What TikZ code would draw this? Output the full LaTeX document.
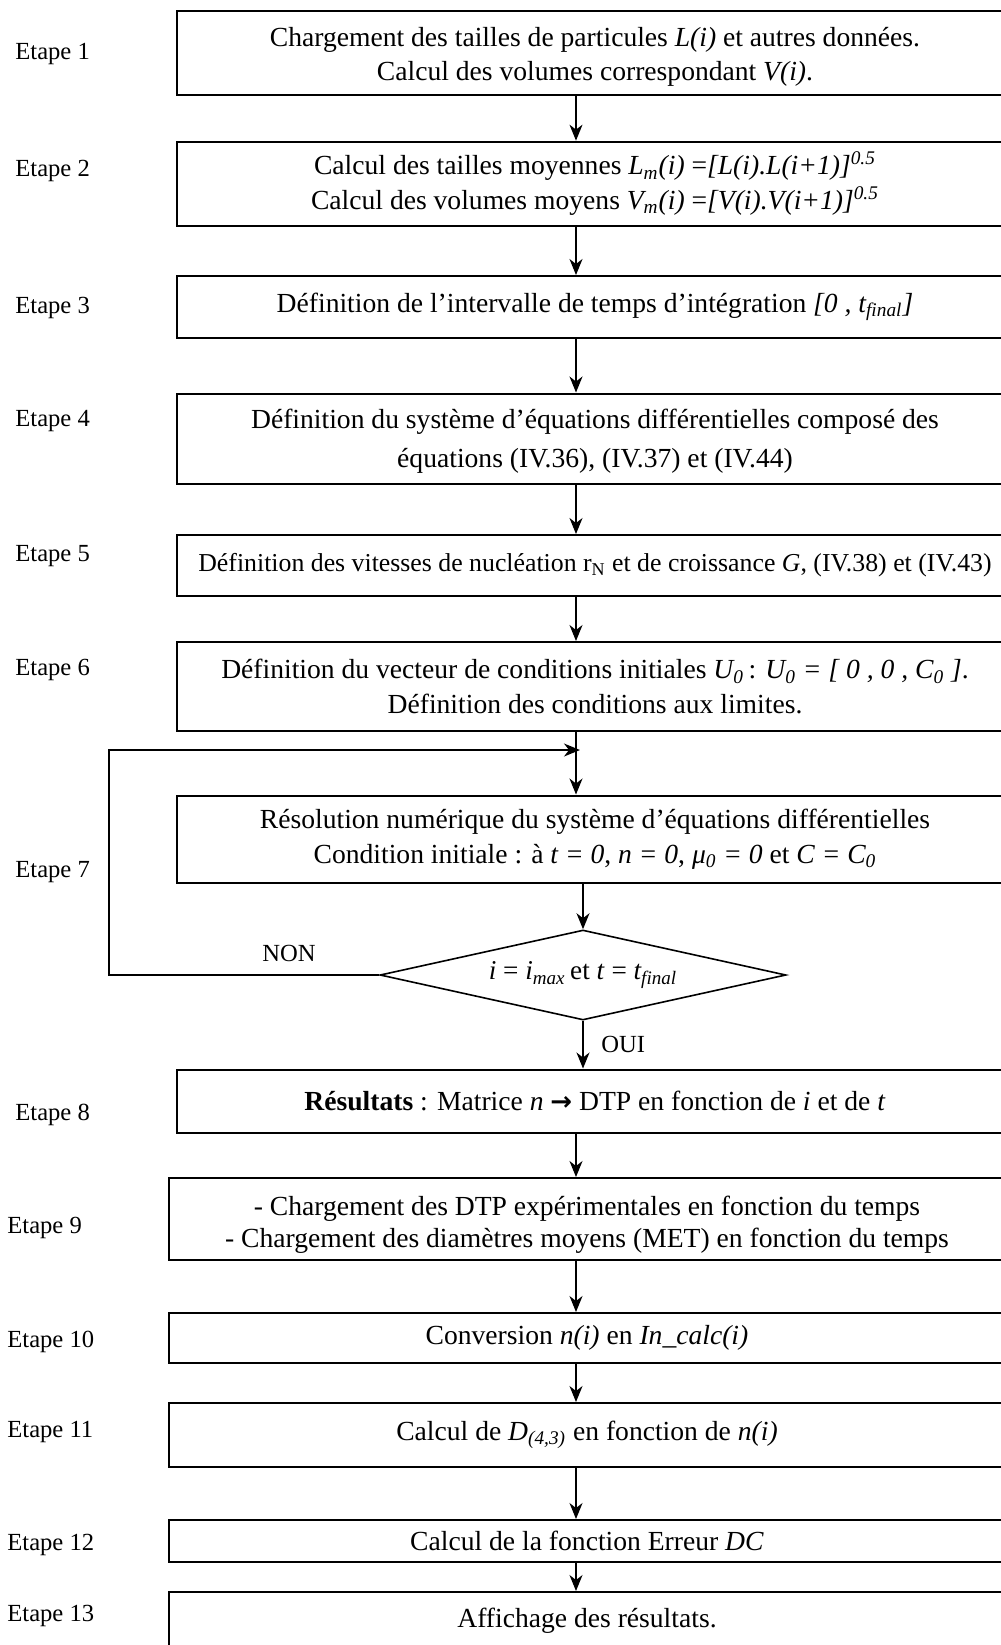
\documentclass[tikz,border=0pt]{standalone}
\usepackage{fontspec}
\setmainfont{Liberation Serif}
\newfontfamily\djv{DejaVu Sans}
\usetikzlibrary{arrows.meta,shapes.geometric}
\begin{document}
\begin{tikzpicture}[x=0.5pt,y=-0.5pt,
  box/.style={draw,line width=1pt,minimum width=418pt,inner sep=0pt,align=center,font=\fontsize{13.8}{17.3}\selectfont},
  txt/.style={inner sep=0pt,align=center,font=\fontsize{13.8}{17.3}\selectfont},
  lbl/.style={anchor=west,inner sep=0pt,font=\fontsize{12.3}{15}\selectfont},
  arr/.style={line width=0.65pt,-{Stealth[length=8pt,width=6.5pt,inset=2.5pt]}}
]
\useasboundingbox (0,0) rectangle (1001,1645);
\clip (0,0) rectangle (1001,1645);
\fill[white] (0,0) rectangle (1001,1645);

% column coordinates
\coordinate (cx) at (576,0);
\coordinate (dx) at (583,0);

% boxes
\node[box,minimum height=42.25pt] (b1) at (595,52.75) {};
\node[txt,yshift=-2pt] (t1) at (b1.center) {Chargement des tailles de particules \textit{L(i)} et autres données.\\Calcul des volumes correspondant \textit{V(i)}.};
\node[box,minimum height=41.95pt] (b2) at (595,183.6) {Calcul des tailles moyennes \textit{L\textsubscript{m}(i)} =\textit{[L(i).L(i+1)]\textsuperscript{0.5}}\\Calcul des volumes moyens \textit{V\textsubscript{m}(i)} =\textit{[V(i).V(i+1)]\textsuperscript{0.5}}};
\node[box,minimum height=31pt] (b3) at (595,307) {Définition de l’intervalle de temps d’intégration \textit{[0 , t\textsubscript{final}]}};
\node[box,minimum height=45.1pt] (b4) at (595,438.6) {};
\node[txt,yshift=-1.2pt,font=\fontsize{13.8}{19.5}\selectfont] (t4) at (b4.center) {Définition du système d’équations différentielles composé des\\équations (IV.36), (IV.37) et (IV.44)};
\node[box,minimum height=30.5pt,font=\fontsize{12.9}{15}\selectfont] (b5) at (595,565.5) {Définition des vitesses de nucléation r\textsubscript{N} et de croissance \textit{G}, (IV.38) et (IV.43)};
\node[box,minimum height=44.5pt] (b6) at (595,686.5) {Définition du vecteur de conditions initiales \textit{U\textsubscript{0}}\,: \textit{U\textsubscript{0} = [ 0 , 0 , C\textsubscript{0} ]}.\\Définition des conditions aux limites.};
\node[box,minimum height=43.5pt] (b7) at (595,839) {Résolution numérique du système d’équations différentielles\\Condition initiale : à \textit{t = 0}, \textit{n = 0}, \textit{μ\textsubscript{0} = 0} et \textit{C = C\textsubscript{0}}};
\node[draw,diamond,line width=0.8pt,minimum width=203pt,minimum height=45pt,aspect=4.5,inner sep=0pt,font=\fontsize{13.6}{15}\selectfont] (dia) at (583,975) {\textit{i} = \textit{i\textsubscript{max}}\,et \textit{t} = \textit{t\textsubscript{final}}};
\node[box,minimum height=31.5pt] (b8) at (595,1101) {\textbf{Résultats} : Matrice \textit{n} {\djv\bfseries\fontsize{13}{13}\selectfont →} DTP en fonction de \textit{i} et de \textit{t}};
\node[box,minimum height=41pt] (b9) at (587,1219) {};
\node[txt,yshift=-2.9pt,font=\fontsize{13.8}{15.8}\selectfont] (t9) at (b9.center) {- Chargement des DTP expérimentales en fonction du temps\\- Chargement des diamètres moyens (MET) en fonction du temps};
\node[box,minimum height=25pt] (b10) at (587,1338) {Conversion \textit{n(i)} en \textit{In\_calc(i)}};
\node[box,minimum height=32pt] (b11) at (587,1435) {Calcul de \textit{D\textsubscript{(4,3)}} en fonction de \textit{n(i)}};
\node[box,minimum height=21pt] (b12) at (587,1541) {Calcul de la fonction Erreur \textit{DC}};
\node[box,anchor=north,text height=17.5pt,text depth=28pt] (b13) at (587,1591) {Affichage des résultats.};

% step labels
\node[lbl] (e1) at (15,54) {Etape 1};
\node[lbl] (e2) at (15,171) {Etape 2};
\node[lbl] (e3) at (15,308) {Etape 3};
\node[lbl] (e4) at (15,421) {Etape 4};
\node[lbl] (e5) at (15,556) {Etape 5};
\node[lbl] (e6) at (15,670) {Etape 6};
\node[lbl] (e7) at (15,872) {Etape 7};
\node[lbl] (e8) at (15,1115) {Etape 8};
\node[lbl] (e9) at (7,1228) {Etape 9};
\node[lbl] (e10) at (7,1342) {Etape 10};
\node[lbl] (e11) at (7,1432) {Etape 11};
\node[lbl] (e12) at (7,1545) {Etape 12};
\node[lbl] (e13) at (7,1616) {Etape 13};

% branch labels
\node[lbl] (non) at (262,953) {NON};
\node[lbl] (oui) at (601,1044) {OUI};

% connectors
\draw[arr] (b1.south -| cx) -- (b2.north -| cx);
\draw[arr] (b2.south -| cx) -- (b3.north -| cx);
\draw[arr] (b3.south -| cx) -- (b4.north -| cx);
\draw[arr] (b4.south -| cx) -- (b5.north -| cx);
\draw[arr] (b5.south -| cx) -- (b6.north -| cx);
\draw[arr] (b6.south -| cx) -- (b7.north -| cx);
\draw[arr] (b7.south -| dx) -- (dia.north);
\draw[arr] (dia.south) -- (b8.north -| dx);
\draw[arr] (b8.south -| cx) -- (b9.north -| cx);
\draw[arr] (b9.south -| cx) -- (b10.north -| cx);
\draw[arr] (b10.south -| cx) -- (b11.north -| cx);
\draw[arr] (b11.south -| cx) -- (b12.north -| cx);
\draw[arr] (b12.south -| cx) -- (b13.north -| cx);

% loop back
\coordinate (lb) at (109,975);
\coordinate (lt) at (109,750);
\coordinate (lj) at (580,750);
\draw[arr] (dia.west) -- (lb) -- (lt) -- (lj);
\end{tikzpicture}
\end{document}
